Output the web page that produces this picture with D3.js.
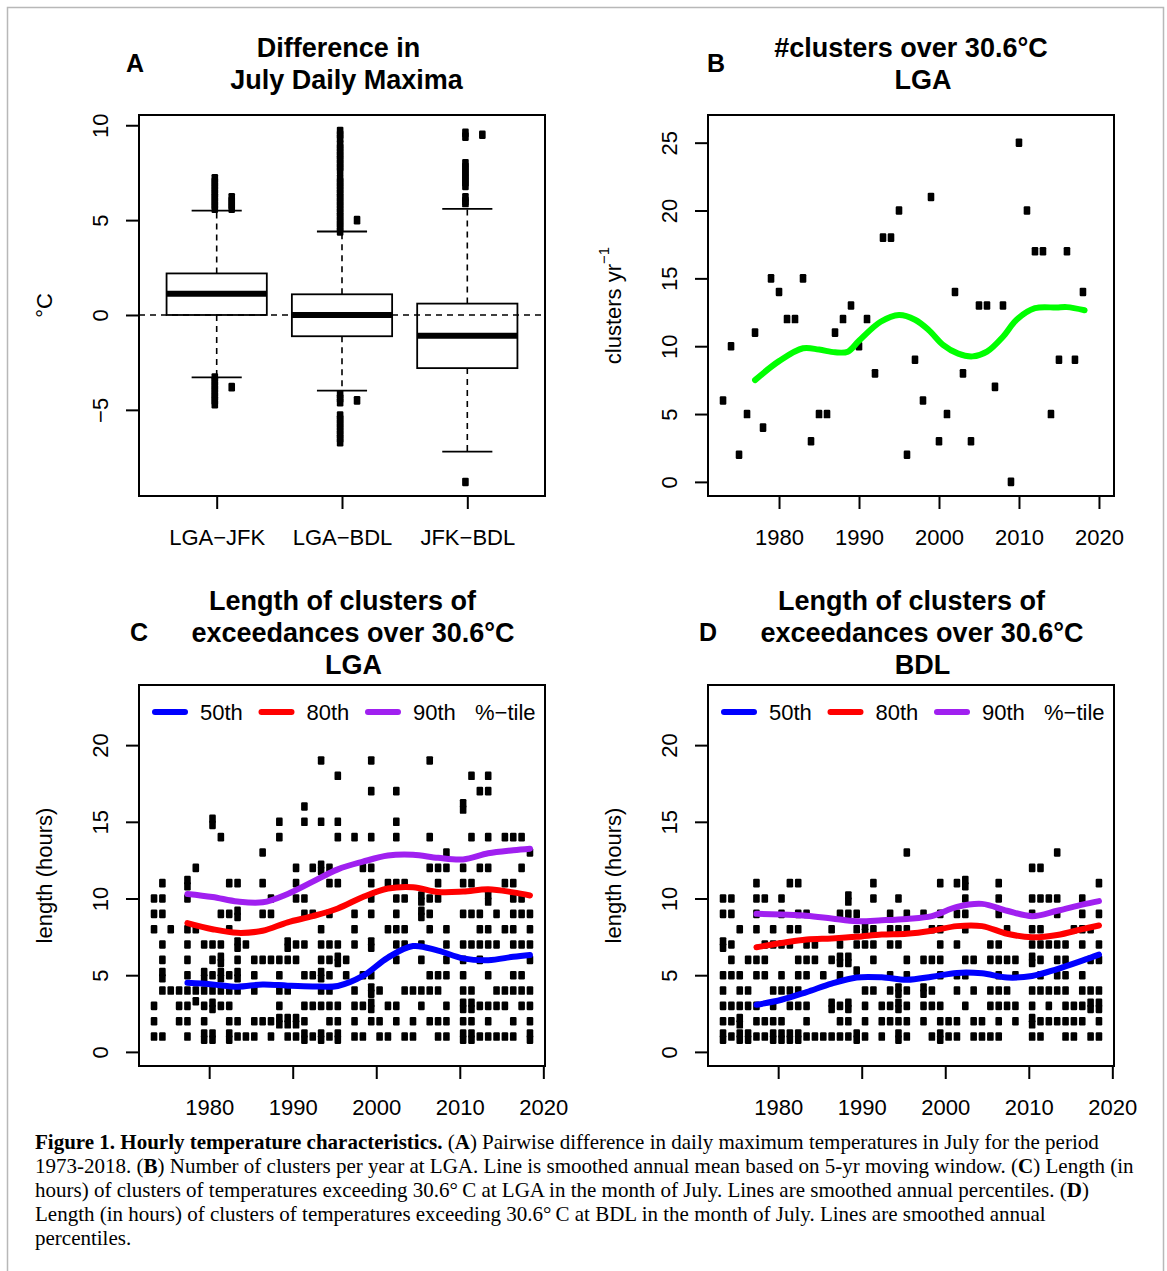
<!DOCTYPE html>
<html>
<head>
<meta charset="utf-8">
<script src="https://cdn.jsdelivr.net/npm/d3@7"></script>
<style>
  body { margin: 0; background: #fff; }
  svg text { font-family: "Liberation Sans", Arial, Helvetica, sans-serif; fill: #000; }
  svg .caption text, svg text.caption { font-family: "Liberation Serif", "Times New Roman", serif; }
</style>
</head>
<body>
<svg id="fig" width="1167" height="1271"></svg>
<script>
// ---- Panel A: boxplot stats (deg C) ----
const boxGroups = ["LGA\u2212JFK", "LGA\u2212BDL", "JFK\u2212BDL"];
const boxLowWhisker = [-3.29, -3.99, -7.2];
const boxQ1 = [0, -1.12, -2.8];
const boxMedian = [1.12, 0, -1.1];
const boxQ3 = [2.19, 1.09, 0.6];
const boxHighWhisker = [5.5, 4.4, 5.59];
// outliers, main column and the small column just right of it
const outliersMain = [
  [7.2, 7.0, 6.8, 6.6, 6.4, 6.2, 6.0, 5.8, 5.6, -3.3, -3.5, -3.7, -3.9, -4.1, -4.3, -4.5, -4.7],
  [9.7, 9.5, 9.3, 9.0, 8.8, 8.6, 8.4, 8.2, 8.0, 7.8, 7.6, 7.2, 7.0, 6.8, 6.6, 6.4, 6.2, 6.0, 5.8,
   5.6, 5.4, 5.2, 5.0, 4.8, 4.6, 4.4, -4.2, -4.4, -4.6, -5.3, -5.5, -5.7, -5.9, -6.1, -6.3, -6.5, -6.7],
  [9.6, 9.4, 8.0, 7.8, 7.6, 7.4, 7.2, 7.0, 6.8, 6.2, 6.0, 5.9, -8.8]
];
const outliersSide = [
  [6.2, 6.0, 5.8, 5.6, -3.8],
  [5.0, -4.5],
  [9.5]
];
const boxTicksY = [-5, 0, 5, 10];

// ---- Panel B: clusters per year at LGA ----
const years = [1973, 1974, 1975, 1976, 1977, 1978, 1979, 1980, 1981, 1982, 1983, 1984, 1985, 1986,
  1987, 1988, 1989, 1990, 1991, 1992, 1993, 1994, 1995, 1996, 1997, 1998, 1999, 2000, 2001, 2002,
  2003, 2004, 2005, 2006, 2007, 2008, 2009, 2010, 2011, 2012, 2013, 2014, 2015, 2016, 2017, 2018];
const bClusters = [6, 10, 2, 5, 11, 4, 15, 14, 12, 12, 15, 3, 5, 5, 11, 12, 13, 10, 12, 8, 18, 18, 20, 2,
  9, 6, 21, 3, 5, 14, 8, 3, 13, 13, 7, 13, 0, 25, 20, 17, 17, 5, 9, 17, 9, 14];
const bSmoothYears = [1977, 1980, 1983, 1985, 1987, 1988.6, 1990, 1992.7, 1995, 1997, 1998.7, 2000.5,
  2002.4, 2004.2, 2006, 2008, 2009.7, 2012, 2014.7, 2016, 2018.2];
const bSmooth = [7.5, 8.9, 9.85, 9.75, 9.55, 9.6, 10.4, 11.8, 12.3, 11.95, 11.2, 10.1,
  9.45, 9.25, 9.6, 10.7, 11.95, 12.8, 12.85, 12.88, 12.65];
const yearTicks = [1980, 1990, 2000, 2010, 2020];

// ---- Panels C and D: cluster lengths (hours) per year ----
const dateOffset = 0.4; // clusters are dated in July, i.e. part way through the year
const lgaLengths = [
  [10, 9, 8, 3, 2, 1], [11, 10, 9, 7, 6, 5.2, 4.8, 4, 1], [8, 4], [4, 3, 2],
  [11.2, 10.8, 10, 8, 7, 6, 5, 4, 3, 2, 1], [12, 8, 4, 3.3], [7, 5.2, 4.8, 4, 3, 2, 1.2, 0.8],
  [15.2, 14.8, 7, 6, 5, 4, 3.2, 2.8, 1.2, 0.8], [14, 9, 7, 6.2, 5.8, 5.2, 4.8, 4, 3],
  [11, 9, 8, 5, 4, 3, 2, 1.2, 0.8], [11, 9.2, 8.8, 7.2, 6.8, 6, 5.2, 4.8, 4, 2, 1], [7, 1],
  [6, 5, 4, 2, 1], [13, 11, 9, 6, 2], [10, 9, 6, 2, 1], [15, 14, 6, 5, 4, 3, 2.2, 1.8],
  [7.2, 6.8, 6, 4, 2.2, 1.8, 1], [12, 11, 10, 7, 6, 2.2, 1.8, 1], [16, 15, 10, 9, 7, 5, 3, 2, 1.2, 0.8],
  [12, 9, 5, 3, 1], [19, 15, 12.2, 11.8, 8, 7, 6, 5.2, 4.8, 4, 3, 1.2, 0.8],
  [12, 11, 9, 7, 6, 5, 4, 3, 2, 1], [18, 15, 14, 11, 7, 6.2, 5.8, 3, 2, 1.2, 0.8], [6, 5],
  [14, 9, 8, 7, 4, 3, 2, 1], [12, 5, 3, 1], [19, 17, 14, 12, 11, 10, 9, 7.2, 6.8, 5, 4.2, 3.8, 3.2, 2.8, 2],
  [4, 2, 1], [11, 8, 3, 1], [17, 15, 14, 11, 10, 9, 8, 7, 6, 3, 2], [11, 10, 8, 7, 4, 1], [4, 2, 1],
  [10.2, 9.8, 9.2, 8.8, 7, 6, 4, 3], [19, 14, 12, 10, 9, 8, 5, 4, 2], [12, 11, 10, 5, 4, 2, 1],
  [13, 12, 8, 7, 6, 5, 3, 2, 1], [], [16.2, 15.8, 12, 11, 9, 7, 6, 5, 4, 3.2, 2.8, 2, 1.2, 0.8],
  [18, 14, 11, 9, 7, 4, 3.2, 2.8, 2, 1.2, 0.8], [17, 12, 9, 8, 7, 6, 3, 1],
  [18, 17, 14, 12, 10.2, 9.8, 8, 7, 5, 3, 2, 1], [9, 7, 4, 3, 1], [14, 11, 8, 4, 3, 1],
  [14, 11, 10, 9, 8, 7, 5, 4, 2, 1], [14, 12, 10, 9, 7, 5, 4, 3], [13, 9, 8, 7, 6, 4, 3, 2, 1.2, 0.8]
];
const bdlLengths = [
  [10, 9, 7.2, 6.8, 5, 4, 3, 2, 1.2, 0.8], [10, 9, 7, 6, 5, 3, 2, 1], [8, 5, 4, 3, 2.2, 1.8, 1.2, 0.8],
  [6, 4, 3, 1.2, 0.8], [11, 10, 9, 8, 6, 5, 3, 2, 1], [10, 7, 6, 5, 2, 1], [8, 7, 4, 3, 2, 1.2, 0.8],
  [10, 9, 7, 5, 4, 2, 1.2, 0.8], [11, 8, 7, 4, 3, 1.2, 0.8], [11, 9, 8, 6, 5, 4, 3, 1.2, 0.8],
  [9, 7, 6, 5, 3, 2, 1], [7, 6, 1], [5, 1], [8, 6, 3.2, 2.8, 1], [9, 7, 6.2, 5.8, 5, 3, 2, 1],
  [10.2, 9.8, 9, 6.2, 5.8, 3.2, 2.8, 2, 1], [9, 8, 7, 5.3, 1.2, 0.8], [8.2, 7.8, 7, 4, 3, 2, 1],
  [11, 10, 8, 7, 6, 4], [3, 2, 1], [9, 8, 7, 5, 4, 3, 2], [10, 8, 7, 4.2, 3.8, 3.2, 2.8, 2, 1.2, 0.8],
  [13, 9, 8, 6, 5, 4, 3, 2, 1], [], [9, 6, 4.2, 3.8, 3, 2], [8, 6, 4, 3, 1],
  [11, 9, 8, 7, 6, 5, 3, 2, 1.2, 0.8], [2, 1], [11, 9, 7, 5, 4, 2, 1], [11.2, 10.8, 10, 9, 8, 6, 5, 3],
  [6, 4, 2, 1], [2, 1], [7, 6, 4, 3, 1], [11, 10, 9, 7, 6, 5, 4, 3, 2, 1], [8, 6, 4, 3], [6, 5, 3, 2],
  [], [12, 10, 9, 8, 7, 6.2, 5.8, 4, 3, 2.2, 1.8, 1], [12, 10, 8, 7, 6, 5, 4, 2, 1], [10, 7, 4, 3, 2],
  [13, 10, 9, 7, 6, 5, 4, 2], [7, 6, 5, 4, 3, 2, 1], [8, 3, 2, 1], [10, 9, 8, 7, 5, 4, 3, 2],
  [8, 6, 4, 3.2, 2.8, 1], [11, 9, 7, 6, 4, 3.2, 2.8, 2, 1]
];
const pctYears = [1977, 1980, 1983, 1986, 1989, 1992, 1995, 1998, 2001, 2004, 2007, 2010, 2013, 2016, 2018];
const lgaP50 = [4.5, 4.4, 4.25, 4.4, 4.32, 4.27, 4.3, 4.95, 6.15, 6.9, 6.6, 6.1, 5.98, 6.2, 6.32];
const lgaP80 = [8.4, 8.0, 7.76, 7.9, 8.45, 8.85, 9.35, 10.1, 10.65, 10.74, 10.42, 10.45, 10.6, 10.4, 10.2];
const lgaP90 = [10.3, 10.1, 9.8, 9.75, 10.3, 11.1, 11.9, 12.4, 12.8, 12.85, 12.65, 12.55, 12.95, 13.15, 13.25];
const bdlP50 = [3.07, 3.4, 3.9, 4.45, 4.85, 4.86, 4.7, 4.9, 5.15, 5.12, 4.85, 4.95, 5.4, 5.95, 6.34];
const bdlP80 = [6.82, 7.1, 7.33, 7.4, 7.5, 7.65, 7.7, 7.9, 8.2, 8.2, 7.7, 7.47, 7.62, 8.0, 8.24];
const bdlP90 = [9.0, 8.95, 8.88, 8.7, 8.52, 8.58, 8.67, 8.85, 9.45, 9.65, 9.2, 8.85, 9.2, 9.6, 9.83];
const pctLabels = ["50th", "80th", "90th"];
const pctColors = ["#0000ff", "#ff0000", "#a020f0"];
const lengthTicks = [0, 5, 10, 15, 20];

const svg = d3.select("#fig");
svg.append("rect").attr("width", 1167).attr("height", 1271).attr("fill", "#fff");
// thin page border
svg.append("path").attr("d", "M7.5,1275V7.5H1163.5V1275")
  .attr("fill", "none").attr("stroke", "#b8b8b8").attr("stroke-width", 1.5);

const FRAME_W = 406, FRAME_H = 381;

function makePanel(left, top, xDomain, yDomain) {
  const g = svg.append("g").attr("transform", `translate(${left},${top})`);
  const x = d3.scaleLinear().domain(xDomain).range([0, FRAME_W]);
  const y = d3.scaleLinear().domain(yDomain).range([FRAME_H, 0]);
  return { g, x, y, left, top };
}

function drawFrame(p) {
  p.g.append("rect").attr("width", FRAME_W).attr("height", FRAME_H)
    .attr("fill", "none").attr("stroke", "#000").attr("stroke-width", 2);
}

function styleAxis(a) {
  a.attr("font-size", 22).attr("font-family", "'Liberation Sans', Arial, sans-serif");
  a.select(".domain").remove();
  a.selectAll(".tick line").attr("stroke-width", 2);
  a.selectAll(".tick text").attr("fill", "#000");
}

function xAxis(p, ticks, fmt) {
  const a = p.g.append("g").attr("transform", `translate(0,${FRAME_H})`)
    .call(d3.axisBottom(p.x).tickValues(ticks).tickSize(13).tickSizeOuter(0).tickPadding(20)
      .tickFormat(fmt || d3.format("d")));
  styleAxis(a);
  a.append("line").attr("x1", p.x(ticks[0])).attr("x2", p.x(ticks[ticks.length - 1]))
    .attr("stroke", "#000").attr("stroke-width", 2);
}

function yAxis(p, ticks) {
  const a = p.g.append("g")
    .call(d3.axisLeft(p.y).tickValues(ticks).tickSize(13).tickSizeOuter(0));
  styleAxis(a);
  a.selectAll(".tick text")
    .attr("x", 0).attr("dy", "0.35em").attr("text-anchor", "middle")
    .attr("transform", "translate(-39,0) rotate(-90)");
  a.append("line").attr("y1", p.y(ticks[0])).attr("y2", p.y(ticks[ticks.length - 1]))
    .attr("stroke", "#000").attr("stroke-width", 2);
}

function yTitle(p, build) {
  const t = p.g.append("text")
    .attr("transform", `translate(-95,${FRAME_H / 2}) rotate(-90)`)
    .attr("dy", "0.35em").attr("text-anchor", "middle").attr("font-size", 22);
  build(t);
}

function title(p, lines, dxs, firstBaseline) {
  lines.forEach((line, i) => {
    svg.append("text")
      .attr("x", p.left + FRAME_W / 2 + dxs[i])
      .attr("y", firstBaseline + i * 32)
      .attr("text-anchor", "middle").attr("font-weight", "bold").attr("font-size", 27)
      .text(line);
  });
}

function letter(txt, x, y) {
  svg.append("text").attr("x", x).attr("y", y).attr("text-anchor", "middle")
    .attr("font-weight", "bold").attr("font-size", 25).text(txt);
}

function squares(g, data, x, y) {
  g.selectAll(null).data(data).enter().append("rect")
    .attr("x", d => x(d[0]) - 3.3).attr("y", d => y(d[1]) - 4.3)
    .attr("width", 6.6).attr("height", 8.6).attr("rx", 1.2).attr("fill", "#000");
}

// ---------------- Panel A ----------------
const pA = makePanel(139, 115, [0.38, 3.62], [-9.54, 10.54]);
boxGroups.forEach((name, i) => {
  const c = i + 1;
  const g = pA.g.append("g");
  // dashed whiskers
  [[boxQ3[i], boxHighWhisker[i]], [boxQ1[i], boxLowWhisker[i]]].forEach(([a, b]) => {
    g.append("line").attr("x1", pA.x(c)).attr("x2", pA.x(c)).attr("y1", pA.y(a)).attr("y2", pA.y(b))
      .attr("stroke", "#000").attr("stroke-width", 1.6).attr("stroke-dasharray", "6,5");
  });
  [boxHighWhisker[i], boxLowWhisker[i]].forEach(v => {
    g.append("line").attr("x1", pA.x(c - 0.2)).attr("x2", pA.x(c + 0.2)).attr("y1", pA.y(v)).attr("y2", pA.y(v))
      .attr("stroke", "#000").attr("stroke-width", 1.8);
  });
  g.append("rect").attr("x", pA.x(c - 0.4)).attr("y", pA.y(boxQ3[i]))
    .attr("width", pA.x(c + 0.4) - pA.x(c - 0.4)).attr("height", pA.y(boxQ1[i]) - pA.y(boxQ3[i]))
    .attr("fill", "none").attr("stroke", "#000").attr("stroke-width", 1.8);
  g.append("line").attr("x1", pA.x(c - 0.4)).attr("x2", pA.x(c + 0.4))
    .attr("y1", pA.y(boxMedian[i])).attr("y2", pA.y(boxMedian[i]))
    .attr("stroke", "#000").attr("stroke-width", 6);
  squares(g, outliersMain[i].map(v => [c - 0.015, v]), pA.x, pA.y);
  squares(g, outliersSide[i].map(v => [c + 0.12, v]), pA.x, pA.y);
});
pA.g.append("line").attr("x1", 0).attr("x2", FRAME_W).attr("y1", pA.y(0)).attr("y2", pA.y(0))
  .attr("stroke", "#000").attr("stroke-width", 1.6).attr("stroke-dasharray", "6,5");
drawFrame(pA);
xAxis(pA, [1, 2, 3], d => boxGroups[d - 1]);
yAxis(pA, boxTicksY);
yTitle(pA, t => t.text("°C"));
title(pA, ["Difference in", "July Daily Maxima"], [-3.5, 4.5], 57);
letter("A", 135, 72);

// ---------------- Panel B ----------------
const pB = makePanel(708, 115, [1971.12, 2021.88], [-1.04, 27.04]);
squares(pB.g, years.map((yr, i) => [yr, bClusters[i]]), pB.x, pB.y);
pB.g.append("path")
  .datum(bSmoothYears.map((yr, i) => [yr, bSmooth[i]]))
  .attr("d", d3.line().x(d => pB.x(d[0])).y(d => pB.y(d[1])).curve(d3.curveCatmullRom.alpha(0.5)))
  .attr("fill", "none").attr("stroke", "#00ff00").attr("stroke-width", 6).attr("stroke-linecap", "round");
drawFrame(pB);
xAxis(pB, yearTicks);
yAxis(pB, [0, 5, 10, 15, 20, 25]);
yTitle(pB, t => {
  t.append("tspan").text("clusters yr");
  t.append("tspan").attr("font-size", 15).attr("dy", "-0.75em").text("\u22121");
});
title(pB, ["#clusters over 30.6°C", "LGA"], [0, 12], 57);
letter("B", 716, 72);

// ---------------- Panels C and D ----------------
function lengthPanel(left, lengths, pcts, station, letterTxt, letterX) {
  const p = makePanel(left, 685, [1971.6, 2020.2], [-0.92, 23.92]);
  const pts = [];
  years.forEach((yr, i) => lengths[i].forEach(v => pts.push([yr + dateOffset, v])));
  squares(p.g, pts, p.x, p.y);
  const line = d3.line().x(d => p.x(d[0])).y(d => p.y(d[1])).curve(d3.curveCatmullRom.alpha(0.5));
  pcts.forEach((vals, k) => {
    p.g.append("path").datum(pctYears.map((yr, i) => [yr + dateOffset, vals[i]]))
      .attr("d", line).attr("fill", "none").attr("stroke", pctColors[k])
      .attr("stroke-width", 6).attr("stroke-linecap", "round");
  });
  // legend
  const lg = p.g.append("g").attr("transform", "translate(0,27)");
  pctLabels.forEach((lab, k) => {
    const x0 = 16 + k * 106.5;
    lg.append("line").attr("x1", x0).attr("x2", x0 + 30)
      .attr("stroke", pctColors[k]).attr("stroke-width", 6).attr("stroke-linecap", "round");
    lg.append("text").attr("x", x0 + 45).attr("dy", "0.35em").attr("font-size", 22).text(lab);
  });
  lg.append("text").attr("x", 336).attr("dy", "0.35em").attr("font-size", 22).text("%\u2212tile");
  drawFrame(p);
  xAxis(p, yearTicks);
  yAxis(p, lengthTicks);
  yTitle(p, t => t.text("length (hours)"));
  title(p, ["Length of clusters of", "exceedances over 30.6°C", station], [0.5, 11, 11.5], 610);
  letter(letterTxt, letterX, 641);
  return p;
}
lengthPanel(139, lgaLengths, [lgaP50, lgaP80, lgaP90], "LGA", "C", 139);
lengthPanel(708, bdlLengths, [bdlP50, bdlP80, bdlP90], "BDL", "D", 708);

// ---------------- Caption ----------------
const captionLines = [
  [["Figure 1. Hourly temperature characteristics.", 1], [" (", 0], ["A", 1],
   [") Pairwise difference in daily maximum temperatures in July for the period", 0]],
  [["1973-2018. (", 0], ["B", 1], [") Number of clusters per year at LGA. Line is smoothed annual mean based on 5-yr moving window. (", 0],
   ["C", 1], [") Length (in", 0]],
  [["hours) of clusters of temperatures exceeding 30.6°\u2009C at LGA in the month of July. Lines are smoothed annual percentiles. (", 0],
   ["D", 1], [")", 0]],
  [["Length (in hours) of clusters of temperatures exceeding 30.6°\u2009C at BDL in the month of July. Lines are smoothed annual", 0]],
  [["percentiles.", 0]]
];
const cap = svg.append("g").attr("class", "caption");
captionLines.forEach((segs, i) => {
  const t = cap.append("text").attr("x", 35).attr("y", 1149 + i * 24).attr("font-size", 21);
  segs.forEach(([s, b]) => t.append("tspan").attr("font-weight", b ? "bold" : "normal").text(s));
});
</script>
</body>
</html>
